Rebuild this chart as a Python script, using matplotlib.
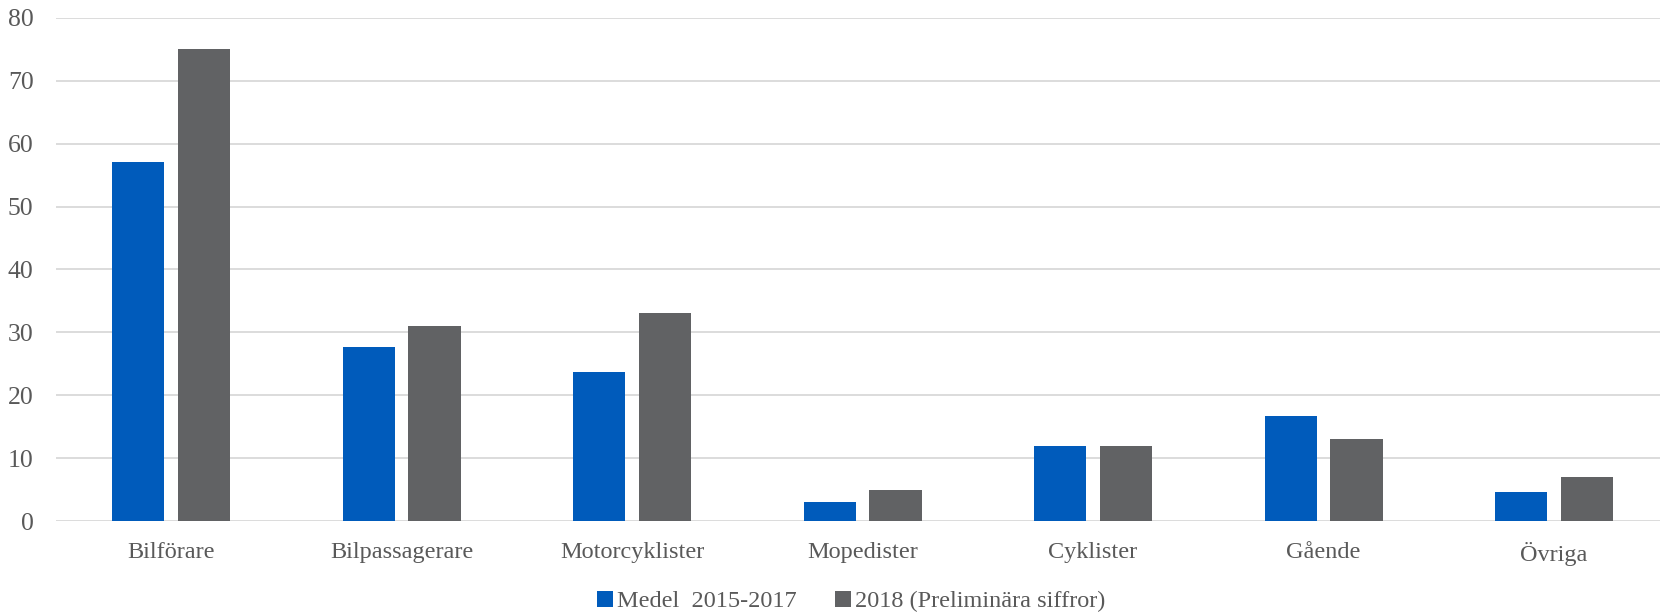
import numpy as np
import matplotlib.pyplot as plt

# data
categories = ['Bilförare', 'Bilpassagerare', 'Motorcyklister', 'Mopedister',
              'Cyklister', 'Gående', 'Övriga']
medel_2015_2017 = [57, 27.67, 23.67, 3, 12, 16.67, 4.67]
prel_2018 = [75, 31, 33, 5, 12, 13, 7]
series_names = ['Medel  2015-2017', '2018 (Preliminära siffror)']

plt.rcParams['font.family'] = ['Liberation Serif', 'DejaVu Serif']

fig = plt.figure(figsize=(16.6, 6.13), dpi=100)
ax = fig.add_axes([0.0336, 0.150, 0.972, 0.821])

x = np.arange(len(categories))
w = 0.226
off = 0.143
ax.bar(x - off, medel_2015_2017, w, color='#005BBB', label=series_names[0], zorder=3)
ax.bar(x + off, prel_2018, w, color='#616264', label=series_names[1], zorder=3)

ax.set_xlim(-0.5, len(categories) - 0.5)
ax.set_ylim(0, 80)
ax.set_yticks(range(0, 81, 10))
ax.set_xticks(x)
ax.set_xticklabels(categories)
ax.grid(axis='y', color='#D9D9D9', linewidth=1.3, zorder=0)
for s in ax.spines.values():
    s.set_visible(False)
ax.tick_params(axis='both', length=0, labelsize=17.5, labelcolor='#595959')
ax.tick_params(axis='y', labelsize=18.5)
ax.tick_params(axis='x', pad=15)
ax.tick_params(axis='y', pad=16)

ax.legend(loc='upper center', bbox_to_anchor=(0.493, -0.095), ncol=2, frameon=False,
          fontsize=17.5, labelcolor='#595959', handlelength=0.65, handleheight=0.65,
          handletextpad=0.15, columnspacing=1.6)

fig.savefig('out.png', dpi=100)
